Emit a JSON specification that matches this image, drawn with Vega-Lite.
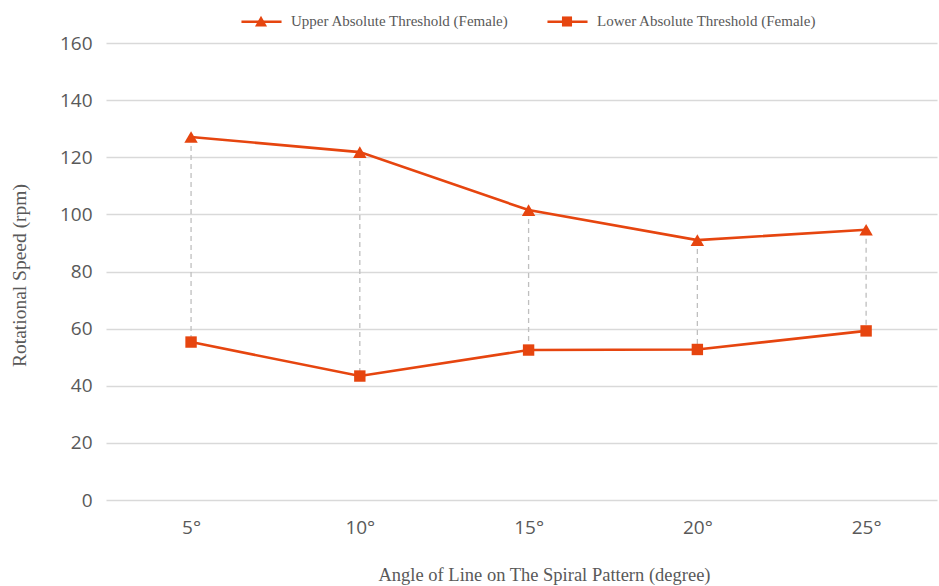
{
  "$schema": "https://vega.github.io/schema/vega-lite/v6.json",
  "width": 831,
  "height": 457,
  "autosize": {"type": "none"},
  "padding": {"left": 106, "top": 43, "right": 2, "bottom": 86},
  "background": "white",
  "config": {"view": {"stroke": null}},
  "data": {
    "values": [
      {"angle": 5, "series": "Upper Absolute Threshold (Female)", "speed": 127.1},
      {"angle": 10, "series": "Upper Absolute Threshold (Female)", "speed": 121.8},
      {"angle": 15, "series": "Upper Absolute Threshold (Female)", "speed": 101.5},
      {"angle": 20, "series": "Upper Absolute Threshold (Female)", "speed": 91.0},
      {"angle": 25, "series": "Upper Absolute Threshold (Female)", "speed": 94.6},
      {"angle": 5, "series": "Lower Absolute Threshold (Female)", "speed": 55.3},
      {"angle": 10, "series": "Lower Absolute Threshold (Female)", "speed": 43.4},
      {"angle": 15, "series": "Lower Absolute Threshold (Female)", "speed": 52.5},
      {"angle": 20, "series": "Lower Absolute Threshold (Female)", "speed": 52.7},
      {"angle": 25, "series": "Lower Absolute Threshold (Female)", "speed": 59.2}
    ]
  },
  "encoding": {
    "x": {
      "field": "angle",
      "type": "quantitative",
      "scale": {"domain": [2.48, 27.1], "nice": false, "zero": false},
      "axis": {
        "title": "Angle of Line on The Spiral Pattern (degree)",
        "titleFont": "Liberation Serif",
        "titleFontSize": 18.5,
        "titleFontWeight": "normal",
        "titleColor": "#595959",
        "titlePadding": 28,
        "titleX": 438,
        "labelFont": "Open Sans",
        "labelFontSize": 19,
        "labelColor": "#595959",
        "labelAngle": 0,
        "labelPadding": 18,
        "labelFlush": false,
        "values": [5, 10, 15, 20, 25],
        "labelExpr": "datum.value + '°'",
        "ticks": false,
        "domain": false,
        "grid": false
      }
    }
  },
  "layer": [
    {
      "transform": [{"pivot": "series", "value": "speed", "groupby": ["angle"]}],
      "mark": {"type": "rule", "color": "#bfbfbf", "strokeWidth": 1.3, "strokeDash": [5, 4]},
      "encoding": {
        "y": {"field": "Upper Absolute Threshold (Female)", "type": "quantitative"},
        "y2": {"field": "Lower Absolute Threshold (Female)"}
      }
    },
    {
      "mark": {"type": "line", "strokeWidth": 2.6, "color": "#E6450F"},
      "encoding": {
        "y": {
          "field": "speed",
          "type": "quantitative",
          "scale": {"domain": [0, 160]},
          "axis": {
            "title": "Rotational Speed (rpm)",
            "titleFont": "Liberation Serif",
            "titleFontSize": 19.5,
            "titleFontWeight": "normal",
            "titleColor": "#595959",
            "titlePadding": 30,
            "titleY": 232,
            "labelFont": "Open Sans",
            "labelFontSize": 19,
            "labelColor": "#595959",
            "labelPadding": 14,
            "labelOverlap": false,
            "values": [0, 20, 40, 60, 80, 100, 120, 140, 160],
            "ticks": false,
            "domain": false,
            "grid": true,
            "gridColor": "#d9d9d9",
            "gridWidth": 1.5
          }
        },
        "detail": {"field": "series"}
      }
    },
    {
      "mark": {"type": "point", "filled": true, "opacity": 1, "color": "#E6450F"},
      "encoding": {
        "y": {"field": "speed", "type": "quantitative"},
        "size": {
          "field": "series",
          "type": "nominal",
          "sort": ["Upper Absolute Threshold (Female)", "Lower Absolute Threshold (Female)"],
          "scale": {"range": [180, 130]},
          "legend": null
        },
        "shape": {
          "field": "series",
          "type": "nominal",
          "sort": ["Upper Absolute Threshold (Female)", "Lower Absolute Threshold (Female)"],
          "scale": {"range": ["triangle-up", "square"]},
          "legend": null
        }
      }
    },
    {
      "mark": {"type": "point", "filled": false, "opacity": 1, "size": 0, "color": "#E6450F", "strokeWidth": 2.5},
      "encoding": {
        "y": {"field": "speed", "type": "quantitative"},
        "shape": {
          "field": "series",
          "type": "nominal",
          "sort": ["Upper Absolute Threshold (Female)", "Lower Absolute Threshold (Female)"],
          "scale": {"range": ["M-1.67,0H1.67", "M-1.67,0.001H1.67"]},
          "legend": {
            "title": null,
            "orient": "none",
            "direction": "horizontal",
            "legendX": 142,
            "legendY": -35,
            "labelExpr": "''",
            "labelLimit": 0,
            "symbolSize": 576,
            "symbolOpacity": 1,
            "symbolStrokeWidth": 2.5,
            "symbolStrokeColor": "#E6450F",
            "labelOffset": 17,
            "columnPadding": 250
          }
        }
      }
    },
    {
      "mark": {"type": "point", "filled": true, "opacity": 1, "size": 0, "color": "#E6450F"},
      "encoding": {
        "y": {"field": "speed", "type": "quantitative"},
        "shape": {
          "field": "series",
          "type": "nominal",
          "sort": ["Upper Absolute Threshold (Female)", "Lower Absolute Threshold (Female)"],
          "scale": {"range": ["M-0.5,0.42L0,-0.48L0.5,0.42Z", "M-0.42,-0.42H0.42V0.42H-0.42Z"]},
          "legend": {
            "title": null,
            "orient": "none",
            "direction": "horizontal",
            "legendX": 142,
            "legendY": -35,
            "labelFont": "Liberation Serif",
            "labelFontSize": 15,
            "labelColor": "#595959",
            "labelLimit": 0,
            "symbolSize": 576,
            "symbolOpacity": 1,
            "labelOffset": 17,
            "columnPadding": 45
          }
        }
      }
    }
  ],
  "resolve": {"scale": {"shape": "independent"}}
}
